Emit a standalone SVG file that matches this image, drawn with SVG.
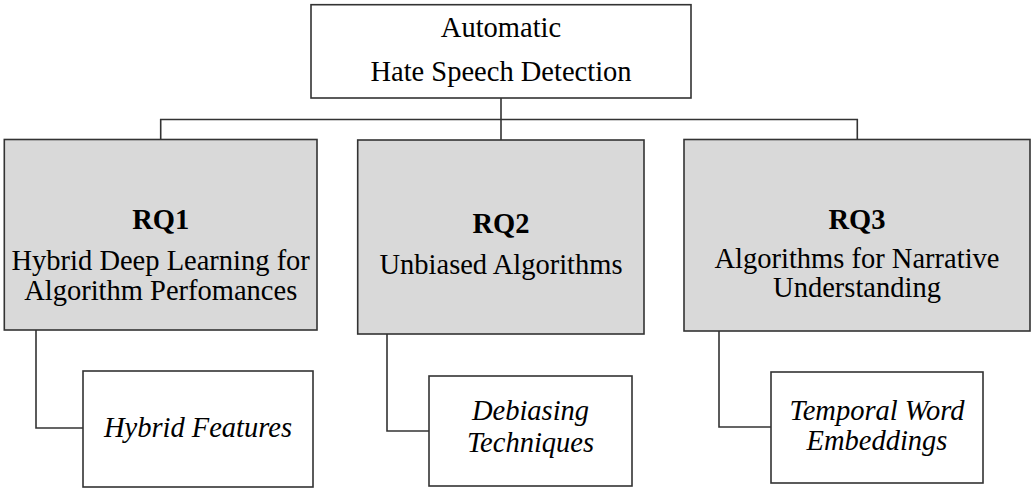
<svg xmlns="http://www.w3.org/2000/svg" width="1031" height="491" viewBox="0 0 1031 491">
  <style>
    .box { fill: #ffffff; stroke: #333333; stroke-width: 1.6; }
    .rq { fill: #d9d9d9; stroke: #333333; stroke-width: 1.6; }
    .link { fill: none; stroke: #333333; stroke-width: 1.6; }
    .lbl { font-family: "Liberation Serif", "Times New Roman", serif; font-size: 28.5px; fill: #000000; text-anchor: middle; }
    .b { font-weight: bold; }
    .i { font-style: italic; }
  </style>
  <rect x="0" y="0" width="1031" height="491" fill="#ffffff"/>

  <!-- connectors -->
  <g id="connectors">
    <path class="link" d="M501 98 V119.5"/>
    <path class="link" d="M160.7 139.5 V119.5 H857.3 V139.5"/>
    <path class="link" d="M501 119.5 V140"/>
    <path class="link" d="M36 330 V428 H83"/>
    <path class="link" d="M387 334 V431 H429"/>
    <path class="link" d="M719 331 V427 H771"/>
  </g>

  <g id="root">
    <rect class="box" x="311" y="4.7" width="380" height="93.3"/>
    <text class="lbl" x="501" y="37">Automatic</text>
    <text class="lbl" x="501" y="81">Hate Speech Detection</text>
  </g>

  <g id="rq1">
    <rect class="rq" x="4.3" y="139.5" width="312.7" height="190.5"/>
    <text class="lbl b" x="160.7" y="229">RQ1</text>
    <text class="lbl" x="160.7" y="270">Hybrid Deep Learning for</text>
    <text class="lbl" x="160.7" y="300">Algorithm Perfomances</text>
  </g>

  <g id="rq2">
    <rect class="rq" x="357.7" y="140" width="286.3" height="194"/>
    <text class="lbl b" x="501" y="233">RQ2</text>
    <text class="lbl" x="501" y="274">Unbiased Algorithms</text>
  </g>

  <g id="rq3">
    <rect class="rq" x="684" y="139.5" width="346" height="191.5"/>
    <text class="lbl b" x="857" y="229">RQ3</text>
    <text class="lbl" x="857" y="268">Algorithms for Narrative</text>
    <text class="lbl" x="857" y="297">Understanding</text>
  </g>

  <g id="hybrid-features">
    <rect class="box" x="83" y="371" width="230" height="116"/>
    <text class="lbl i" x="198" y="437">Hybrid Features</text>
  </g>

  <g id="debiasing-techniques">
    <rect class="box" x="429" y="376" width="203" height="110"/>
    <text class="lbl i" x="530.5" y="420">Debiasing</text>
    <text class="lbl i" x="530.5" y="452">Techniques</text>
  </g>

  <g id="temporal-word-embeddings">
    <rect class="box" x="771" y="372" width="212" height="111"/>
    <text class="lbl i" x="877" y="420">Temporal Word</text>
    <text class="lbl i" x="877" y="450">Embeddings</text>
  </g>
</svg>
